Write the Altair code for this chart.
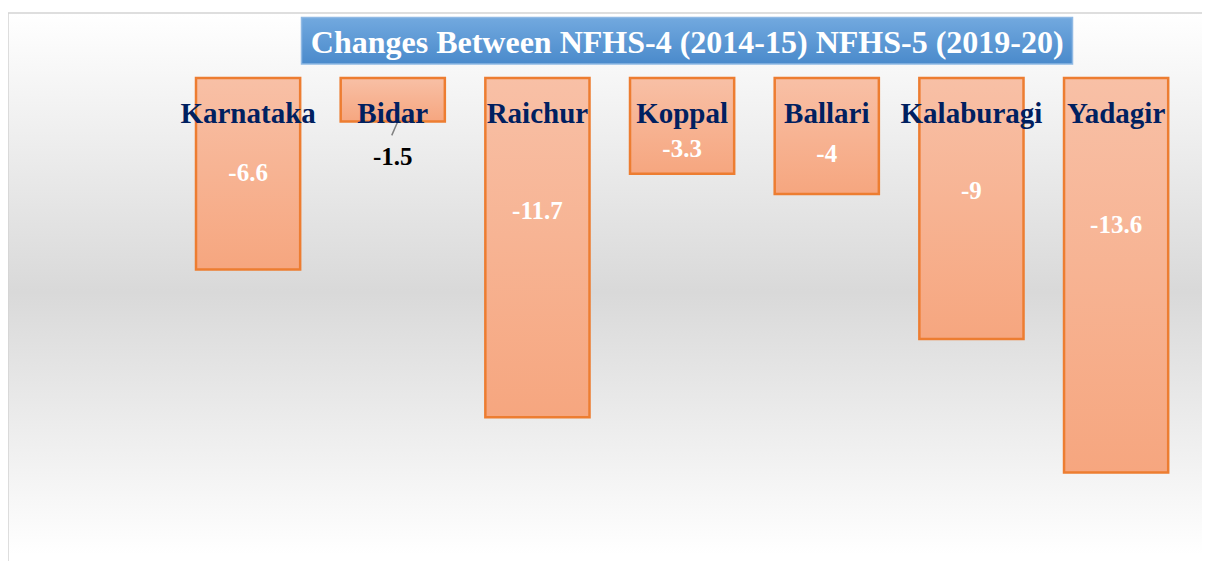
import altair as alt
import pandas as pd

districts = ["Karnataka", "Bidar", "Raichur", "Koppal", "Ballari", "Kalaburagi", "Yadagir"]
changes = [-6.6, -1.5, -11.7, -3.3, -4.0, -9.0, -13.6]
value_labels = ["-6.6", "-1.5", "-11.7", "-3.3", "-4", "-9", "-13.6"]
title_text = "Changes Between NFHS-4 (2014-15) NFHS-5 (2019-20)"

df = pd.DataFrame({"district": districts, "change": changes, "label": value_labels})
one = pd.DataFrame({"title": [title_text]})

TOTAL_W = 1194
TOTAL_H = 553
W = 1012.7
H = 464
PAD_L = 167.75
PAD_T = 70
FONT = "Liberation Serif"

x_enc = alt.X(
    "district:N",
    sort=districts,
    scale=alt.Scale(paddingInner=0.28, paddingOuter=0.14, round=False),
    axis=alt.Axis(
        orient="top", title=None, domain=False, ticks=False, tickSize=0,
        labelPadding=-44, labelBaseline="alphabetic", labelFont=FONT,
        labelFontWeight="bold", labelFontSize=29, labelColor="#002060",
        labelAngle=0, zindex=2, grid=False,
    ),
)
y_scale = alt.Scale(domain=[-16, 0], nice=False)

bg_grad = alt.Gradient(
    gradient="linear", x1=0, x2=0, y1=0, y2=1,
    stops=[
        alt.GradientStop(color="#ffffff", offset=0),
        alt.GradientStop(color="#d9d9d9", offset=0.5),
        alt.GradientStop(color="#ffffff", offset=0.97),
        alt.GradientStop(color="#ffffff", offset=1),
    ],
)
background = alt.Chart(one).mark_rect(
    fill=bg_grad, stroke="#d4d4d4", strokeWidth=1.5
).encode(
    x=alt.value(-PAD_L), x2=alt.value(TOTAL_W - PAD_L + 10),
    y=alt.value(5 - PAD_T), y2=alt.value(TOTAL_H - PAD_T + 10),
)

title_grad = alt.Gradient(
    gradient="linear", x1=0, x2=0, y1=0, y2=1,
    stops=[
        alt.GradientStop(color="#72a9df", offset=0),
        alt.GradientStop(color="#4a8acb", offset=1),
    ],
)
title_box = alt.Chart(one).mark_rect(
    fill=title_grad, stroke="#8fb9e4", strokeWidth=1.5
).encode(
    x=alt.value(301.5 - 175.75), x2=alt.value(1072.5 - 175.75),
    y=alt.value(17.5 - 78), y2=alt.value(64 - 78),
)
title_mark = alt.Chart(one).mark_text(
    font=FONT, fontWeight="bold", fontSize=32, color="#ffffff",
    align="center", baseline="alphabetic",
).encode(
    x=alt.value(687.2 - 175.75), y=alt.value(52.7 - 78), text="title:N",
)

bar_grad = alt.Gradient(
    gradient="linear", x1=0, x2=0, y1=0, y2=1,
    stops=[
        alt.GradientStop(color="#f8c0a6", offset=0),
        alt.GradientStop(color="#f6a67f", offset=1),
    ],
)
bars = alt.Chart(df).mark_bar(
    fill=bar_grad, stroke="#ed7d31", strokeWidth=2.5
).encode(
    x=x_enc,
    y=alt.Y("change:Q", scale=y_scale, axis=None),
)

labels = alt.Chart(df).transform_calculate(
    label_y="datum.change > -2 ? datum.change - 1.22 : 0.256 * datum.change - 1.6"
).mark_text(
    font=FONT, fontWeight="bold", fontSize=25, baseline="middle", align="center"
).encode(
    x=alt.X("district:N", sort=districts),
    y=alt.Y("label_y:Q", scale=y_scale),
    text="label:N",
    color=alt.condition("datum.change > -2", alt.value("#000000"), alt.value("#ffffff")),
)

leader = alt.Chart(df).transform_filter("datum.change > -2").transform_calculate(
    end="datum.change - 0.48"
).mark_rule(color="#808080", strokeWidth=1.5, xOffset=5, x2Offset=-1).encode(
    x=alt.X("district:N", sort=districts),
    x2=alt.X2("district:N"),
    y=alt.Y("change:Q", scale=y_scale),
    y2="end:Q",
)

chart = alt.layer(background, bars, labels, leader, title_box, title_mark).properties(
    width=W,
    height=H,
    autosize=alt.AutoSizeParams(type="none"),
    padding={"left": PAD_L, "top": PAD_T, "right": TOTAL_W - PAD_L - W, "bottom": TOTAL_H - PAD_T - H},
).configure_view(strokeWidth=0).configure(background="#ffffff")

chart.save("out.html", embed_options={"renderer": "svg", "actions": False})
